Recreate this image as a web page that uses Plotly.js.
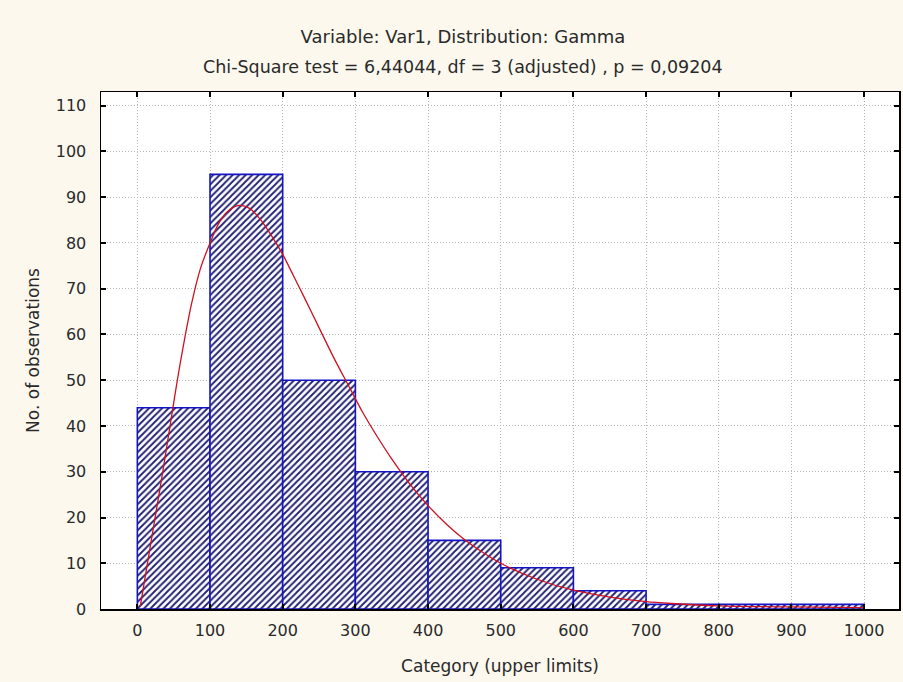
<!DOCTYPE html>
<html>
<head>
<meta charset="utf-8">
<script src="https://cdn.plot.ly/plotly-3.0.1.min.js"></script>
<style>html,body{margin:0;padding:0;background:#fcf8ee;}#chart{width:903px;height:682px;}</style>
</head>
<body>
<div id="chart"></div>
<script>
// Histogram: category upper limits and observed counts
const upperLimits = [100, 200, 300, 400, 500, 600, 700, 800, 900, 1000];
const counts = [44, 95, 50, 30, 15, 9, 4, 1, 1, 1];

// Fitted Gamma curve (expected counts)
const curveX = [4, 15, 25, 35, 45, 55, 65, 75, 87, 100, 112, 125, 140, 155, 170, 185, 200, 215, 230, 250, 270, 290, 310, 330, 350, 375, 400, 425, 450, 475, 500, 550, 600, 650, 700, 735, 800, 900, 1000];
const curveY = [0.5, 11, 20.5, 30, 40, 50, 59, 67, 74.5, 80, 84.3, 87, 88.2, 87.5, 85, 81.5, 77.5, 72.8, 68, 61.5, 55, 49, 43, 37.7, 32.8, 27.3, 22.6, 18.6, 15.2, 12.4, 10, 6.5, 4.1, 2.6, 1.6, 1.2, 0.7, 0.45, 0.3];

const xTicks = [0, 100, 200, 300, 400, 500, 600, 700, 800, 900, 1000];
const yTicks = [0, 10, 20, 30, 40, 50, 60, 70, 80, 90, 100, 110];

const titleLine1 = 'Variable: Var1, Distribution: Gamma';
const titleLine2 = 'Chi-Square test = 6,44044, df = 3 (adjusted) , p = 0,09204';

const FONT = 'DejaVu Sans, Verdana, sans-serif';
const TXT = '#2a2a2a';

const bars = {
  type: 'bar',
  x: upperLimits,
  y: counts,
  width: 100,
  offset: -100,
  marker: {
    color: 'white',
    line: {color: '#1414c4', width: 1.6},
    pattern: {shape: '/', fgcolor: '#202070', bgcolor: 'white', size: 4.6, solidity: 0.4}
  },
  hoverinfo: 'x+y',
  showlegend: false
};

const curve = {
  type: 'scatter',
  mode: 'lines',
  x: curveX,
  y: curveY,
  line: {color: '#d01020', width: 1.3, shape: 'spline', smoothing: 0.8},
  showlegend: false
};

const layout = {
  width: 903,
  height: 682,
  paper_bgcolor: '#fcf8ee',
  plot_bgcolor: 'white',
  margin: {l: 101, r: 4, t: 92, b: 73},
  font: {family: FONT, size: 16, color: TXT},
  bargap: 0,
  title: {
    text: titleLine1,
    font: {family: FONT, size: 18, color: TXT},
    xref: 'container', x: 463 / 903, xanchor: 'center',
    yref: 'container', y: 1 - 37 / 682, yanchor: 'middle'
  },
  annotations: [{
    text: titleLine2,
    xref: 'paper', yref: 'paper',
    x: (463 - 101) / 798, y: 1 + (92 - 67) / 517,
    xanchor: 'center', yanchor: 'middle',
    showarrow: false,
    font: {family: FONT, size: 17.5, color: TXT}
  }],
  xaxis: {
    range: [-50, 1048],
    tickvals: xTicks,
    ticktext: xTicks.map(String),
    ticks: 'inside', ticklen: 5, tickwidth: 2, tickcolor: '#000',
    ticklabelstandoff: 6,
    showline: true, linecolor: '#000', linewidth: 1.5, mirror: 'ticks',
    showgrid: true, gridcolor: '#b4b4b4', griddash: '1px,2px', gridwidth: 1,
    zeroline: false,
    tickfont: {family: FONT, size: 16, color: TXT},
    title: {text: 'Category (upper limits)', standoff: 21, font: {family: FONT, size: 17, color: TXT}}
  },
  yaxis: {
    range: [0, 113],
    tickvals: yTicks,
    ticktext: yTicks.map(String),
    ticks: 'inside', ticklen: 5, tickwidth: 2, tickcolor: '#000',
    ticklabelstandoff: 10,
    showline: true, linecolor: '#000', linewidth: 1.5, mirror: 'ticks',
    showgrid: true, gridcolor: '#b4b4b4', griddash: '1px,2px', gridwidth: 1,
    zeroline: false,
    tickfont: {family: FONT, size: 16, color: TXT},
    title: {text: 'No. of observations', standoff: 12, font: {family: FONT, size: 17, color: TXT}}
  }
};

Plotly.newPlot('chart', [bars, curve], layout, {displayModeBar: false, staticPlot: true});
</script>
</body>
</html>
